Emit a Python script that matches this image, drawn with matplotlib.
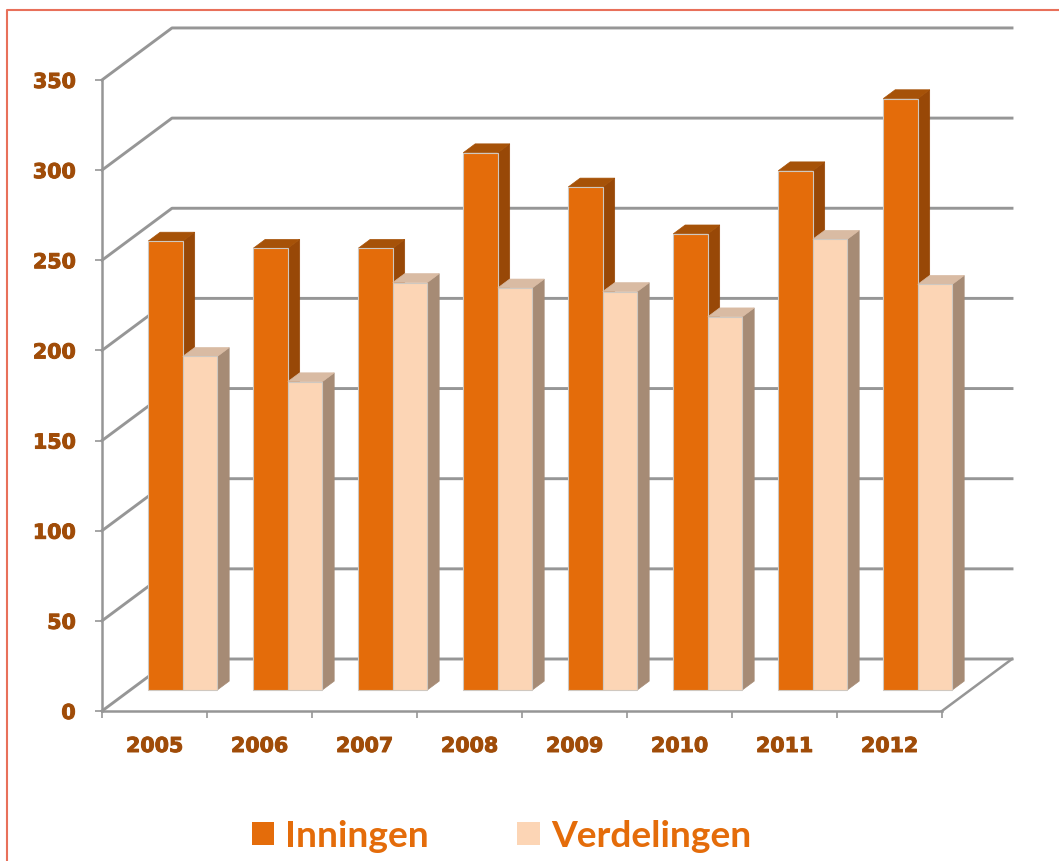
import numpy as np
from matplotlib import pyplot as plt
from matplotlib import patheffects
from matplotlib.lines import Line2D
from matplotlib.patches import Patch, Polygon

# chart data
years = ['2005', '2006', '2007', '2008', '2009', '2010', '2011', '2012']
inningen = [249, 245, 245, 298, 279, 253, 288, 328]
verdelingen = [185, 171, 226, 223, 221, 207, 250, 225]
y_ticks = [0, 50, 100, 150, 200, 250, 300, 350]
series_names = ['Inningen', 'Verdelingen']

# colours
orange = '#e46c0a'
orange_top = '#a65208'
orange_side = '#984807'
peach = '#fcd5b5'
peach_top = '#d9bba3'
peach_side = '#a68b75'
grid_grey = '#969696'
label_brown = '#a04c08'

# oblique 3d look, expressed in axis units
px_x = 105.0       # pixels for one category
px_y = 1.803       # pixels for one value unit
wall_dx = 70 / px_x
wall_dy = 52 / px_y
bar_front = 0.404  # depth of bars front face, 0 = axis, 1 = back wall
bar_depth = 0.17
bar_w = 34.5 / px_x


def project(x, v, d):
    return x + d * wall_dx, v + d * wall_dy


def draw_bar(ax, left, value, face, top, side):
    right = left + bar_w
    d0, d1 = bar_front, bar_front + bar_depth
    front = [project(left, 0, d0), project(right, 0, d0), project(right, value, d0), project(left, value, d0)]
    lid = [project(left, value, d0), project(right, value, d0), project(right, value, d1), project(left, value, d1)]
    wall = [project(right, 0, d0), project(right, 0, d1), project(right, value, d1), project(right, value, d0)]
    ax.add_patch(Polygon(wall, closed=True, fc=side, ec=side, lw=0.5, zorder=3))
    ax.add_patch(Polygon(lid, closed=True, fc=top, ec=top, lw=0.5, zorder=3))
    ax.add_patch(Polygon(front, closed=True, fc=face, ec='#cfc8c0', lw=0.8, zorder=3))


fig = plt.figure(figsize=(10.59, 8.61), dpi=100)
ax = fig.add_axes([0, 0, 1, 1])
ax.set_xlim(-102 / px_x, (1059 - 102) / px_x)
ax.set_ylim((711 - 861) / px_y, 711 / px_y)

n = len(years)

# back wall lines with the slanted part on the side wall
for v in y_ticks:
    wx, wy = project(0, v, 1)
    ax.plot([0, wx, n + wall_dx], [v, wy, wy], color=grid_grey, lw=2.1, zorder=1)
ax.plot([n, n + wall_dx], [0, wall_dy], color=grid_grey, lw=1.8, zorder=1)

for i in range(n):
    left = i + 0.5 - bar_w
    draw_bar(ax, left, inningen[i], orange, orange_top, orange_side)
    draw_bar(ax, left + bar_w, verdelingen[i], peach, peach_top, peach_side)

# axes
for name in ['top', 'right']:
    ax.spines[name].set_visible(False)
for name in ['left', 'bottom']:
    ax.spines[name].set_position(('data', 0))
    ax.spines[name].set_color(grid_grey)
    ax.spines[name].set_linewidth(1.8)
    ax.spines[name].set_zorder(2)
ax.spines['left'].set_bounds(0, 350)
ax.spines['bottom'].set_bounds(0, n)

ax.set_yticks(y_ticks)
ax.set_xticks(np.arange(n + 1))
ax.set_xticklabels([''] * (n + 1))
ax.set_xticks(np.arange(n) + 0.5, minor=True)
ax.set_xticklabels(years, minor=True)
ax.tick_params(axis='y', length=5, width=1.2, color=grid_grey, pad=14, labelcolor=label_brown)
ax.tick_params(axis='x', which='major', length=5, width=1.2, color=grid_grey)
ax.tick_params(axis='x', which='minor', length=0, pad=18, labelcolor=label_brown)
for lab in ax.get_yticklabels() + ax.get_xticklabels(minor=True):
    lab.set_fontfamily('DejaVu Sans')
    lab.set_fontweight('bold')
    lab.set_fontsize(14.8)
    lab.set_path_effects([patheffects.withStroke(linewidth=0.7, foreground=label_brown)])

# legend
handles = [Patch(fc=orange, ec='none'), Patch(fc=peach, ec='none')]
leg = ax.legend(handles, series_names, loc='center', bbox_to_anchor=(0.4736, 0.029), ncol=2,
                frameon=False, handlelength=0.6, handleheight=0.6, handletextpad=0.3,
                columnspacing=2.38, labelcolor=orange,
                prop={'family': 'Lato', 'weight': 'bold', 'size': 26.7})

# outer frame
frame = '#e8705a'
fig.add_artist(Line2D([7 / 1059, 7 / 1059, 1], [0, 1 - 10 / 861, 1 - 10 / 861], color=frame, lw=1.5))

fig.savefig('out.png', dpi=100)
